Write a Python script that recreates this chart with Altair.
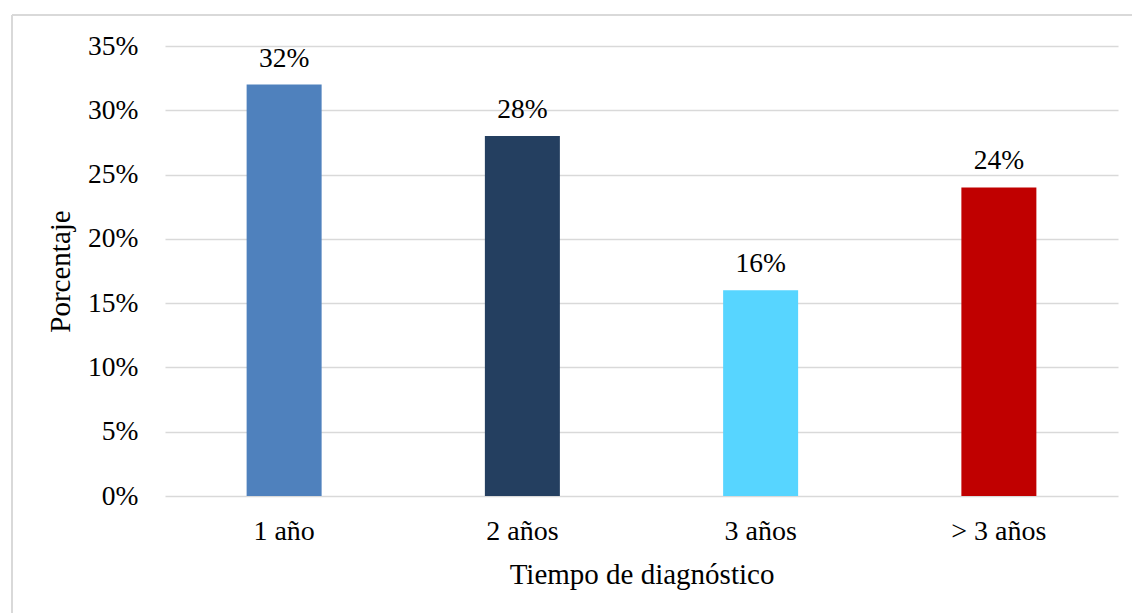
import altair as alt
import pandas as pd

# Time since diagnosis and share of patients in each group
categorias = ["1 año", "2 años", "3 años", "> 3 años"]
porcentajes = [0.32, 0.28, 0.16, 0.24]
colores = ["#4F81BD", "#243F60", "#57D5FF", "#C00000"]
ticks_y = [0, 0.05, 0.10, 0.15, 0.20, 0.25, 0.30, 0.35]

df = pd.DataFrame({"tiempo": categorias, "porcentaje": porcentajes})

FONT = "Liberation Serif"
GRID = "#D9D9D9"

x_enc = alt.X(
    "tiempo:N",
    sort=categorias,
    scale=alt.Scale(paddingInner=0, paddingOuter=0),
    axis=alt.Axis(
        title="Tiempo de diagnóstico",
        labelAngle=0,
        labelFont=FONT,
        labelFontSize=28,
        labelColor="#000000",
        labelPadding=21,
        titleFont=FONT,
        titleFontSize=29,
        titleFontWeight="normal",
        titleColor="#000000",
        titlePadding=15,
        ticks=False,
        domain=False,
    ),
)
y_enc = alt.Y(
    "porcentaje:Q",
    scale=alt.Scale(domain=[0, 0.35], nice=False),
    axis=alt.Axis(
        title="Porcentaje",
        values=ticks_y,
        format=".0%",
        labelFont=FONT,
        labelFontSize=27.5,
        labelColor="#000000",
        labelPadding=27,
        titleFont=FONT,
        titleFontSize=29,
        titleFontWeight="normal",
        titleColor="#000000",
        titlePadding=12,
        ticks=False,
        domain=False,
        gridColor=GRID,
        gridWidth=1.5,
    ),
)

bars = alt.Chart(df).mark_bar(size=75).encode(
    x=x_enc,
    y=y_enc,
    color=alt.Color("tiempo:N", scale=alt.Scale(domain=categorias, range=colores), legend=None),
)

labels = alt.Chart(df).mark_text(
    font=FONT, fontSize=27.5, baseline="alphabetic", dy=-18, color="#000000"
).encode(
    x=alt.X("tiempo:N", sort=categorias),
    y="porcentaje:Q",
    text=alt.Text("porcentaje:Q", format=".0%"),
)

# Light frame around the chart (left and top edges)
frame_left = alt.Chart(df).mark_rule(color=GRID, strokeWidth=2).encode(
    x=alt.value(-153), y=alt.value(-31), y2=alt.value(600)
)
frame_top = alt.Chart(df).mark_rule(color=GRID, strokeWidth=2).encode(
    x=alt.value(-153), x2=alt.value(1000), y=alt.value(-31)
)

chart = (
    alt.layer(frame_left, frame_top, bars, labels)
    .properties(
        width=953,
        height=450,
        autosize=alt.AutoSizeParams(type="none"),
        padding={"left": 165, "top": 46, "right": 14, "bottom": 117},
        background="#FFFFFF",
    )
    .configure_view(stroke=None)
)

chart.save("out.html", embed_options={"renderer": "svg", "actions": False})
